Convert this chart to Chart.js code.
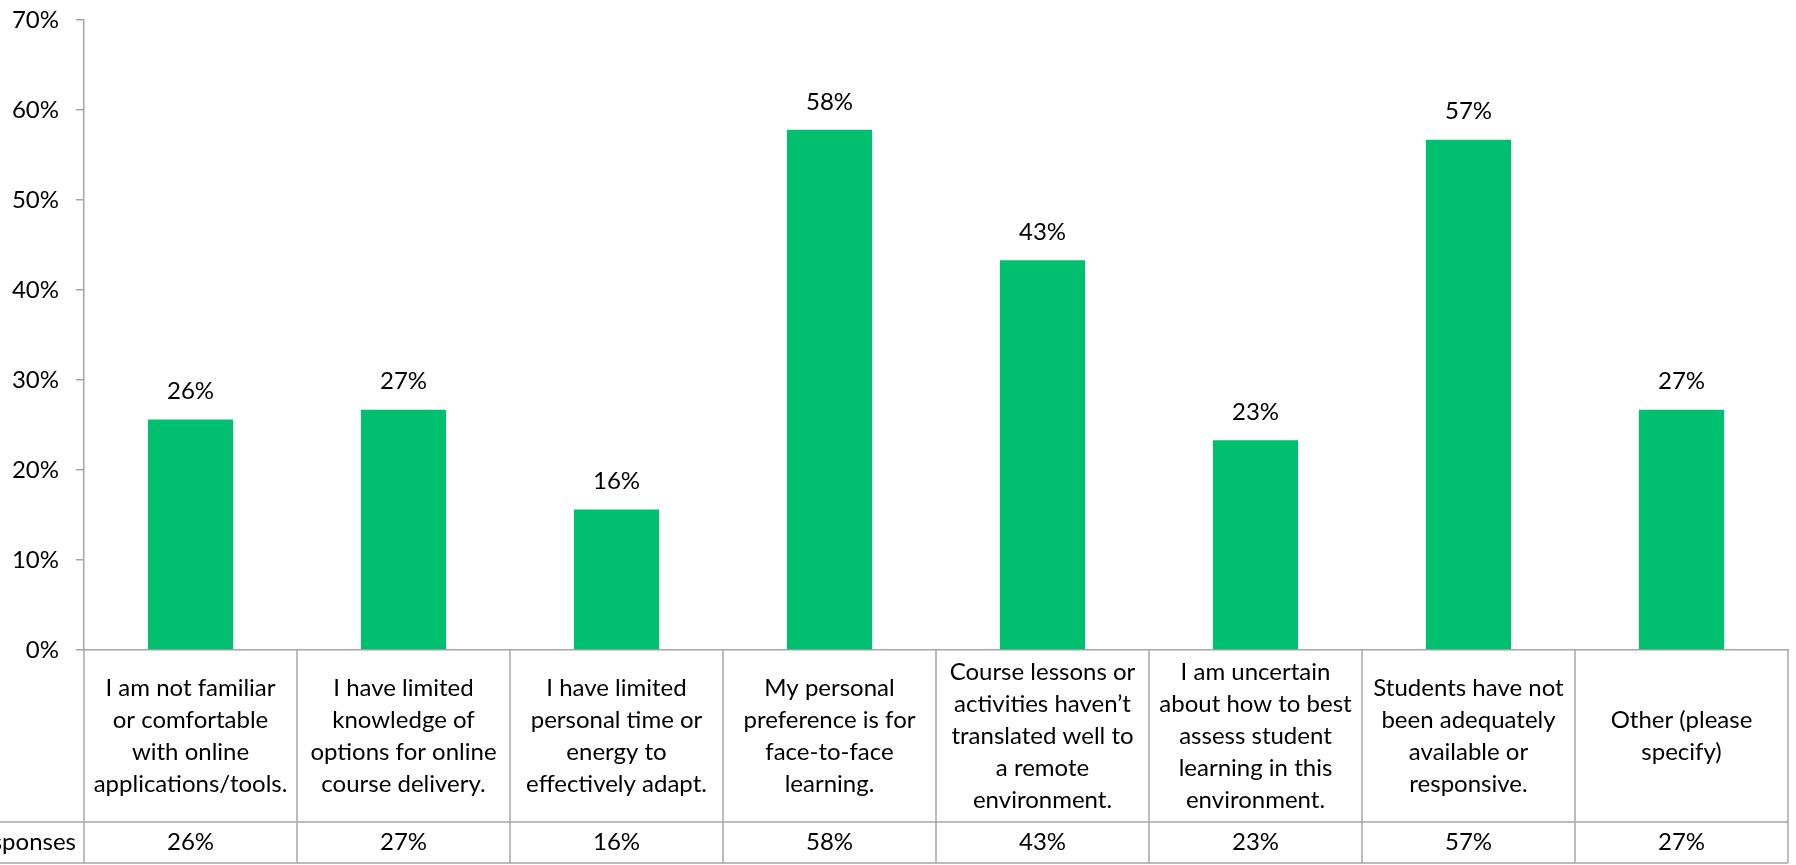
<!DOCTYPE html>
<html>
<head>
<meta charset="utf-8">
<script src="https://cdn.jsdelivr.net/npm/chart.js@4.4.1/dist/chart.umd.min.js"></script>
<style>
  html, body { margin: 0; padding: 0; background: #fff; }
  #wrap { position: relative; width: 1796px; height: 865px; }
</style>
</head>
<body>
<div id="wrap"><canvas id="reasons-chart"></canvas></div>
<script>
// survey answers, one entry per column (already wrapped as in the table)
const categories = [
  ["I am not familiar", "or comfortable", "with online", "applications/tools."],
  ["I have limited", "knowledge of", "options for online", "course delivery."],
  ["I have limited", "personal time or", "energy to", "effectively adapt."],
  ["My personal", "preference is for", "face-to-face", "learning."],
  ["Course lessons or", "activities haven\u2019t", "translated well to", "a remote", "environment."],
  ["I am uncertain", "about how to best", "assess student", "learning in this", "environment."],
  ["Students have not", "been adequately", "available or", "responsive."],
  ["Other (please", "specify)"]
];
// share of responses, in percent
const responses = [25.6, 26.7, 15.6, 57.8, 43.3, 23.3, 56.7, 26.7];
const seriesName = "Responses";
const yTicks = [0, 10, 20, 30, 40, 50, 60, 70];

const FONT = "Lato, 'Open Sans', sans-serif";
const FONT_SIZE = 24;
const LINE_COLOR = "#a6a6a6";
const TABLE_HEIGHT = 215;
const LABEL_ROW = 172;

const pct = v => Math.round(v) + "%";

// value labels above each bar
const barLabels = {
  id: "barLabels",
  afterDatasetsDraw(chart) {
    const ctx = chart.ctx;
    const meta = chart.getDatasetMeta(0);
    ctx.save();
    ctx.font = `${FONT_SIZE}px ${FONT}`;
    ctx.fillStyle = "#000";
    ctx.textAlign = "center";
    ctx.textBaseline = "bottom";
    meta.data.forEach((bar, i) => {
      ctx.fillText(pct(responses[i]), bar.x, bar.y - 16);
    });
    ctx.restore();
  }
};

// data table under the plot: category names + values row
const dataTable = {
  id: "dataTable",
  afterDraw(chart) {
    const ctx = chart.ctx;
    const x = chart.scales.x;
    const area = chart.chartArea;
    const half = (x.getPixelForValue(1) - x.getPixelForValue(0)) / 2;
    const top = area.bottom;
    const mid = top + LABEL_ROW;
    const bottom = chart.height - 2;
    const right = x.getPixelForValue(categories.length - 1) + half;

    ctx.save();
    ctx.strokeStyle = LINE_COLOR;
    ctx.lineWidth = 1.5;

    // horizontal rules
    ctx.beginPath();
    ctx.moveTo(0, mid);
    ctx.lineTo(right, mid);
    ctx.moveTo(0, bottom);
    ctx.lineTo(right, bottom);
    ctx.stroke();

    // column separators
    ctx.beginPath();
    for (let i = 0; i <= categories.length; i++) {
      const px = x.getPixelForValue(0) - half + i * half * 2;
      ctx.moveTo(px, top);
      ctx.lineTo(px, bottom);
    }
    ctx.stroke();

    ctx.font = `${FONT_SIZE}px ${FONT}`;
    ctx.fillStyle = "#000";
    ctx.textAlign = "center";
    ctx.textBaseline = "middle";
    const lh = 32;
    categories.forEach((lines, i) => {
      const cx = x.getPixelForValue(i);
      const y0 = top + LABEL_ROW / 2 - (lines.length - 1) * lh / 2;
      lines.forEach((t, j) => ctx.fillText(t, cx, y0 + j * lh));
      ctx.fillText(pct(responses[i]), cx, (mid + bottom) / 2);
    });

    // row header (runs off the left edge)
    ctx.textAlign = "right";
    ctx.fillText(seriesName, area.left - 8, (mid + bottom) / 2);
    ctx.restore();
  }
};

const config = {
  type: "bar",
  data: {
    labels: categories,
    datasets: [{
      label: seriesName,
      data: responses,
      backgroundColor: "#00bf6f",
      borderWidth: 0,
      barPercentage: 0.4,
      categoryPercentage: 1.0
    }]
  },
  options: {
    responsive: false,
    animation: false,
    layout: { padding: { top: 0, right: 8, left: 0, bottom: 0 } },
    plugins: {
      legend: { display: false },
      tooltip: { enabled: false }
    },
    scales: {
      x: {
        ticks: { display: false },
        grid: { display: false },
        border: { display: true, color: LINE_COLOR, width: 1.5 },
        afterFit(scale) { scale.height = TABLE_HEIGHT; }
      },
      y: {
        min: yTicks[0],
        max: yTicks[yTicks.length - 1],
        afterBuildTicks(scale) { scale.ticks = yTicks.map(v => ({ value: v })); },
        ticks: {
          callback: v => v + "%",
          color: "#000",
          padding: 17,
          font: { family: FONT, size: FONT_SIZE }
        },
        grid: { drawOnChartArea: false, tickLength: 8, color: LINE_COLOR, lineWidth: 1.5 },
        border: { display: true, color: LINE_COLOR, width: 1.5 },
        afterFit(scale) {
          scale.width = 84;
          // tick padding is horizontal only; keep the top of the plot tight
          scale.paddingTop = 20;
          scale.paddingBottom = 16;
        }
      }
    }
  },
  plugins: [barLabels, dataTable]
};

const canvas = document.getElementById("reasons-chart");
canvas.width = 1796;
canvas.height = 865;
new Chart(canvas.getContext("2d"), config);
</script>
</body>
</html>
